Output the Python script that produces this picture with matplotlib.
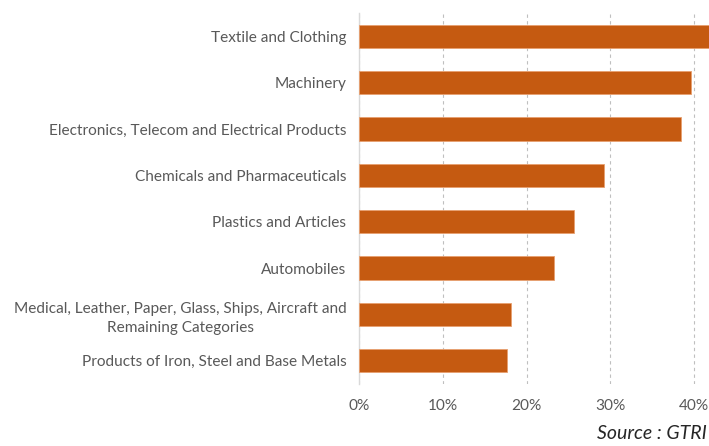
import matplotlib
matplotlib.use("Agg")
import matplotlib.pyplot as plt
from matplotlib.ticker import FuncFormatter, MultipleLocator

categories = [
    "Textile and Clothing",
    "Machinery",
    "Electronics, Telecom and Electrical Products",
    "Chemicals and Pharmaceuticals",
    "Plastics and Articles",
    "Automobiles",
    "Medical, Leather, Paper, Glass, Ships, Aircraft and\nRemaining Categories",
    "Products of Iron, Steel and Base Metals",
]
values = [0.44, 0.396, 0.384, 0.292, 0.257, 0.233, 0.181, 0.177]

W, H = 709, 446
fig = plt.figure(figsize=(W / 100, H / 100), dpi=100)
ax = fig.add_axes([359 / W, 1 - 384 / H, 1 - 359 / W, (384 - 13) / H])

ypos = list(range(len(categories)))
ax.barh(ypos, values, height=0.5, color="#C55A11", edgecolor="#E8A070", linewidth=0.6, zorder=3)
ax.set_ylim(len(categories) - 0.5, -0.5)
ax.set_xlim(0, (W - 359) / 838.0)
ax.set_yticks(ypos)
ax.set_yticklabels(categories, multialignment="center", linespacing=1.45)
ax.xaxis.set_major_locator(MultipleLocator(0.1))
ax.xaxis.set_major_formatter(FuncFormatter(lambda v, p: f"{v*100:.0f}%"))

font = "Lato"
for lab in ax.get_yticklabels() + ax.get_xticklabels():
    lab.set_fontfamily(font)
    lab.set_fontsize(11.1)
    lab.set_color("#595959")

ax.tick_params(axis="both", length=0)
ax.tick_params(axis="y", pad=9)
ax.tick_params(axis="x", pad=11)
ax.grid(axis="x", color="#BFBFBF", linestyle=(0, (3, 3)), linewidth=0.8, zorder=0)
for s in ["top", "right", "bottom"]:
    ax.spines[s].set_visible(False)
ax.spines["left"].set_color("#D9D9D9")
ax.spines["left"].set_linewidth(1.0)

fig.text(707 / W, 1 - 439 / H, "Source : GTRI", fontsize=14, style="italic",
         family=font, color="#262626", ha="right", va="baseline")

fig.savefig("out.png", dpi=100)
